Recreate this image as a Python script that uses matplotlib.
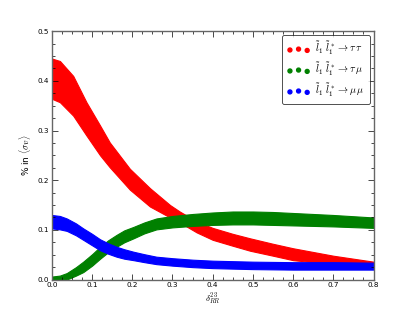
import matplotlib
matplotlib.use("Agg")
import matplotlib.pyplot as plt
from matplotlib.ticker import MultipleLocator, AutoMinorLocator

plt.rcParams['mathtext.fontset'] = 'cm'

# --- data (band bounds) ---
red_x = [0.0, 0.02, 0.053, 0.086, 0.12, 0.144, 0.194, 0.244, 0.294, 0.318, 0.36, 0.4,
         0.45, 0.493, 0.55, 0.6, 0.7, 0.8]
red_hi = [0.445, 0.44, 0.41, 0.357, 0.31, 0.276, 0.223, 0.184, 0.150, 0.137, 0.117, 0.104,
          0.092, 0.083, 0.072, 0.063, 0.048, 0.036]
red_lo = [0.364, 0.357, 0.33, 0.29, 0.25, 0.226, 0.181, 0.147, 0.125, 0.115, 0.095, 0.080,
          0.068, 0.058, 0.048, 0.039, 0.031, 0.026]

green_x = [0.0, 0.02, 0.037, 0.06, 0.078, 0.1, 0.12, 0.14, 0.161, 0.18, 0.203, 0.23,
           0.26, 0.3, 0.35, 0.4, 0.45, 0.5, 0.55, 0.6, 0.7, 0.8]
green_hi = [0.006, 0.008, 0.013, 0.025, 0.036, 0.051, 0.066, 0.079, 0.090, 0.099, 0.106, 0.115,
            0.123, 0.128, 0.132, 0.135, 0.137, 0.137, 0.136, 0.134, 0.130, 0.125]
green_lo = [0.0, 0.0, 0.0, 0.008, 0.015, 0.028, 0.042, 0.055, 0.066, 0.075, 0.083, 0.093,
            0.101, 0.105, 0.108, 0.110, 0.111, 0.111, 0.110, 0.109, 0.107, 0.104]

blue_x = [0.0, 0.02, 0.037, 0.06, 0.078, 0.1, 0.12, 0.14, 0.161, 0.18, 0.203, 0.23,
          0.26, 0.3, 0.35, 0.4, 0.5, 0.6, 0.7, 0.8]
blue_hi = [0.130, 0.128, 0.123, 0.113, 0.103, 0.092, 0.081, 0.073, 0.066, 0.061, 0.056, 0.051,
           0.046, 0.043, 0.040, 0.038, 0.036, 0.035, 0.035, 0.034]
blue_lo = [0.103, 0.101, 0.098, 0.089, 0.080, 0.069, 0.059, 0.052, 0.046, 0.042, 0.039, 0.035,
           0.031, 0.028, 0.025, 0.023, 0.021, 0.020, 0.020, 0.020]

labels = [r'$\tilde{l}_1\;\tilde{l}_1^*\rightarrow\tau\,\tau$',
          r'$\tilde{l}_1\;\tilde{l}_1^*\rightarrow\tau\,\mu$',
          r'$\tilde{l}_1\;\tilde{l}_1^*\rightarrow\mu\,\mu$']
colors = ['#ff0000', '#008000', '#0000ff']

fig = plt.figure(figsize=(4.15, 3.12), dpi=100)
ax = fig.add_axes([0.125, 0.104, 0.775, 0.796])

series = [(red_x, red_lo, red_hi), (green_x, green_lo, green_hi), (blue_x, blue_lo, blue_hi)]
for (x, lo, hi), c, lab in zip(series, colors, labels):
    ax.fill_between(x, lo, hi, color=c, linewidth=0.8, edgecolor=c)
    ax.scatter([], [], s=8, color=c, label=lab)

ax.set_xlim(0, 0.8)
ax.set_ylim(0, 0.5)
ax.xaxis.set_major_locator(MultipleLocator(0.1))
ax.yaxis.set_major_locator(MultipleLocator(0.1))
ax.xaxis.set_minor_locator(AutoMinorLocator(4))
ax.yaxis.set_minor_locator(AutoMinorLocator(4))
ax.tick_params(which='both', direction='in', top=True, right=True, labelsize=5.2,
               pad=2, color='black', width=0.5)
ax.tick_params(which='major', length=4)
ax.tick_params(which='minor', length=2)
for s in ax.spines.values():
    s.set_color('#666666')
    s.set_linewidth(1.0)

ax.set_xlabel(r'$\delta^{23}_{RR}$', fontsize=6.5, labelpad=2.5)
ax.set_ylabel(r'% in $\langle\sigma v\rangle$', fontsize=6.5, labelpad=3)

leg = ax.legend(loc='upper right', scatterpoints=3, fontsize=7.3, frameon=True,
                fancybox=True, borderaxespad=0.35, handletextpad=0.5,
                labelspacing=0.35, borderpad=0.5, handlelength=2.3)
leg.get_frame().set_edgecolor('black')
leg.get_frame().set_linewidth(0.6)

fig.savefig('out.png', dpi=100)
